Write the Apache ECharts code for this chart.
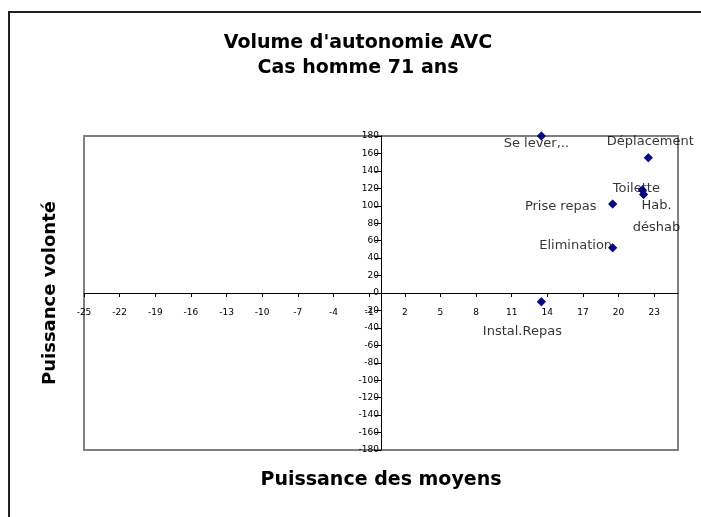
<!DOCTYPE html>
<html>
<head>
<meta charset="utf-8">
<script src="https://cdn.jsdelivr.net/npm/echarts@6/dist/echarts.min.js"></script>
<style>
  html, body { margin: 0; padding: 0; background: #fff; }
  #chart { width: 701px; height: 517px; }
</style>
</head>
<body>
<div id="chart"></div>
<script>
// activities and their coordinates
const pointNames = ['Se lever,..', 'Déplacement', 'Toilette', 'Hab. déshab', 'Prise repas', 'Elimination', 'Instal.Repas'];
const moyens = [13.5, 22.5, 22.0, 22.1, 19.5, 19.5, 13.5];   // Puissance des moyens (x)
const volonte = [180, 155, 118, 113, 102, 52, -10];          // Puissance volonté (y)

const titleLines = ["Volume d'autonomie AVC", 'Cas homme 71 ans'];
const xTitle = 'Puissance des moyens';
const yTitle = 'Puissance volonté';

const chart = echarts.init(document.getElementById('chart'));

// where each label sits relative to its marker
const labelOffsets = {
    'Se lever,..': [-5, 8],
    'Déplacement': [2, -16],
    'Toilette': [-6, -1],
    'Hab. déshab': [13, 22],
    'Prise repas': [-52, 3],
    'Elimination': [-37, -2],
    'Instal.Repas': [-19, 30]
};

const points = pointNames.map((name, i) => ({
    name: name,
    value: [moyens[i], volonte[i]],
    label: { offset: labelOffsets[name] }
}));

const font = 'DejaVu Sans';

// grid box; the axes cross at (0, 0) in the middle of it
const gridLeft = 84, gridRight = 23, gridTop = 136, gridBottom = 67;
const gridW = 701 - gridLeft - gridRight;
const gridH = 517 - gridTop - gridBottom;

const option = {
    backgroundColor: '#fff',
    animation: false,
    grid: {
        left: gridLeft,
        right: gridRight,
        top: gridTop,
        bottom: gridBottom,
        show: true,
        backgroundColor: '#fff',
        borderColor: '#808080',
        borderWidth: 2,
        outerBoundsMode: 'none'
    },
    xAxis: {
        type: 'value',
        min: -25,
        max: 25,
        interval: 3,
        position: 'bottom',
        offset: -gridH / 2,
        axisLine: { onZero: false, lineStyle: { color: '#000', width: 1 } },
        axisTick: { show: true, length: 4, lineStyle: { color: '#000' } },
        axisLabel: {
            fontFamily: font,
            fontSize: 9,
            color: '#000',
            margin: 15,
            showMaxLabel: false
        },
        splitLine: { show: false }
    },
    yAxis: {
        type: 'value',
        min: -180,
        max: 180,
        interval: 20,
        position: 'left',
        offset: -gridW / 2,
        axisLine: { onZero: false, lineStyle: { color: '#000', width: 1 } },
        axisTick: { show: true, length: 6, lineStyle: { color: '#000' } },
        axisLabel: {
            fontFamily: font,
            fontSize: 9,
            color: '#000',
            margin: 2
        },
        splitLine: { show: false }
    },
    series: [
        {
            // labels drawn underneath the markers
            type: 'scatter',
            z: 2,
            symbol: 'diamond',
            symbolSize: 9,
            itemStyle: { color: '#000080' },
            label: {
                show: true,
                position: 'inside',
                fontFamily: font,
                fontSize: 13,
                lineHeight: 22,
                color: '#000',
                textBorderWidth: 0,
                formatter: p => p.name === 'Hab. déshab' ? 'Hab.\ndéshab' : p.name
            },
            data: points
        },
        {
            type: 'scatter',
            z: 3,
            symbol: 'diamond',
            symbolSize: 9,
            itemStyle: { color: '#000080' },
            data: pointNames.map((name, i) => [moyens[i], volonte[i]])
        }
    ],
    graphic: [
        {
            type: 'rect',
            shape: { x: 9, y: 12, width: 720, height: 530 },
            style: { fill: 'none', stroke: '#222', lineWidth: 2 },
            silent: true
        },
        {
            type: 'text', x: 358, y: 43,
            style: { text: titleLines[0], font: 'bold 19px "DejaVu Sans"', fill: '#000', align: 'center', verticalAlign: 'middle' }
        },
        {
            type: 'text', x: 358, y: 68,
            style: { text: titleLines[1], font: 'bold 19px "DejaVu Sans"', fill: '#000', align: 'center', verticalAlign: 'middle' }
        },
        {
            type: 'text', x: 381, y: 480,
            style: { text: xTitle, font: 'bold 19px "DejaVu Sans"', fill: '#000', align: 'center', verticalAlign: 'middle' }
        },
        {
            type: 'text', x: 50, y: 293, rotation: Math.PI / 2,
            style: { text: yTitle, font: 'bold 18px "DejaVu Sans"', fill: '#000', align: 'center', verticalAlign: 'middle' }
        }
    ]
};

chart.setOption(option);
</script>
</body>
</html>
